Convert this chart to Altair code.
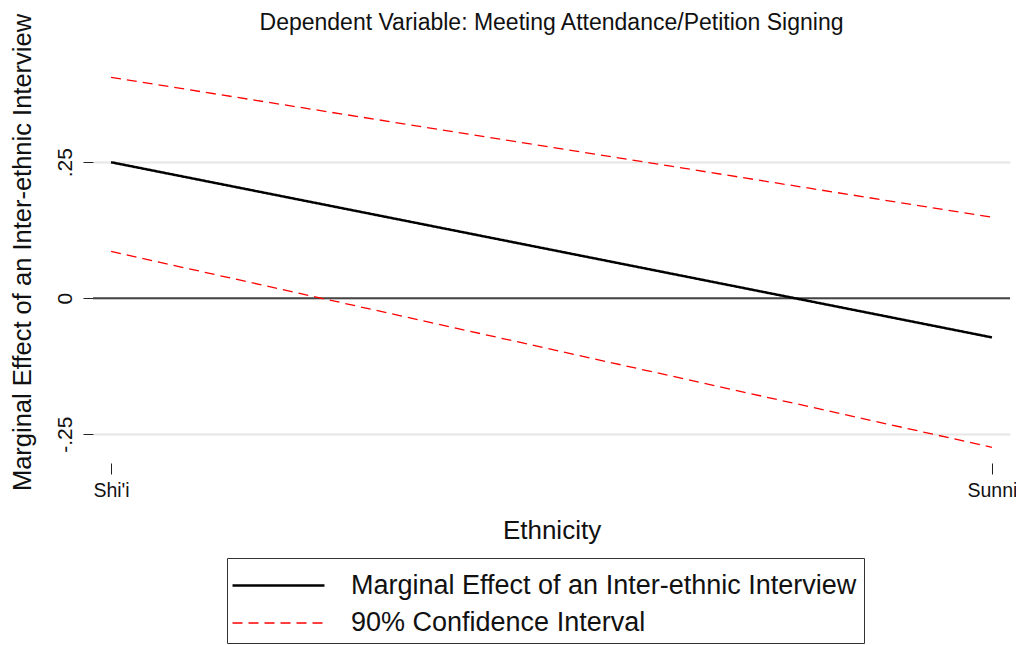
import altair as alt
import pandas as pd

categories = ["Shi'i", "Sunni"]
effect = [0.250, -0.072]
upper_ci = [0.406, 0.149]
lower_ci = [0.086, -0.274]

main_label = "Marginal Effect of an Inter-ethnic Interview"
ci_label = "90% Confidence Interval"

rows = []
for name, vals, typ in [("main", effect, main_label), ("upper", upper_ci, ci_label), ("lower", lower_ci, ci_label)]:
    for c, v in zip(categories, vals):
        rows.append({"Ethnicity": c, "value": v, "line": name, "type": typ})
df = pd.DataFrame(rows)

FONT = "Liberation Sans"

x_enc = alt.X("Ethnicity:O", sort=categories,
              scale=alt.Scale(type="point", padding=0.0205),
              axis=alt.Axis(title="Ethnicity", labelAngle=0, domain=False, grid=False,
                            offset=7, tickSize=11, tickColor="#222", tickWidth=1,
                            labelFontSize=19.5, labelPadding=7, labelColor="#111",
                            titleFontSize=26, titleFontWeight="normal", titleColor="#111",
                            titleY=75, titleBaseline="alphabetic"))

y_enc = alt.Y("value:Q", scale=alt.Scale(domain=[-0.29, 0.46], nice=False, zero=False),
              axis=alt.Axis(title="Marginal Effect of an Inter-ethnic Interview",
                            values=[-0.25, 0, 0.25],
                            labelExpr="datum.value == 0 ? '0' : (datum.value > 0 ? '.25' : '-.25')",
                            domain=False, tickSize=10, tickColor="#222", tickWidth=1,
                            grid=True, gridColor="#e6e6e6", gridWidth=2,
                            labelAngle=270, labelAlign="center", labelBaseline="middle",
                            labelPadding=18, labelFontSize=21, labelColor="#111",
                            titleFontSize=25.5, titleFontWeight="normal", titleColor="#111",
                            titleAngle=270, titleX=-71, titleY=204,
                            titleAlign="center", titleBaseline="middle"))

lines = alt.Chart(df).mark_line().encode(
    x=x_enc,
    y=y_enc,
    color=alt.Color("type:N", scale=alt.Scale(domain=[main_label, ci_label], range=["#000000", "#ff0000"]),
                    legend=alt.Legend(title=None)),
    strokeDash=alt.StrokeDash("type:N", scale=alt.Scale(domain=[main_label, ci_label], range=[[1, 0], [10, 6]]),
                              legend=alt.Legend(title=None)),
    strokeWidth=alt.StrokeWidth("type:N", scale=alt.Scale(domain=[main_label, ci_label], range=[2.5, 1.3]),
                                legend=alt.Legend(title=None)),
    detail="line:N",
)

zero_df = pd.DataFrame({"value": [0.0]})
zero = alt.Chart(zero_df).mark_rule(color="#444", strokeWidth=2).encode(y=alt.Y("value:Q"))

chart = alt.layer(zero, lines).properties(
    width=917, height=408,
    title=alt.TitleParams("Dependent Variable: Meeting Attendance/Petition Signing",
                          fontSize=23, font=FONT, fontWeight="normal", color="#111",
                          anchor="middle", offset=0, dy=22, frame="group"),
    autosize=alt.AutoSizeParams(type="none"),
    padding={"left": 85, "top": 40, "right": 6, "bottom": 189},
).configure(font=FONT).configure_view(stroke=None).configure_legend(
    orient="none", legendX=134, legendY=510, strokeColor="#333", fillColor="white",
    padding=7, symbolType="M-2.42,0H2.42", symbolSize=1444, symbolOffset=24,
    labelFontSize=27, labelOffset=52, rowPadding=4, labelLimit=800, labelColor="#111",
    symbolStrokeWidth=2,
)

chart.save("out.html", embed_options={"renderer": "svg", "actions": False})
